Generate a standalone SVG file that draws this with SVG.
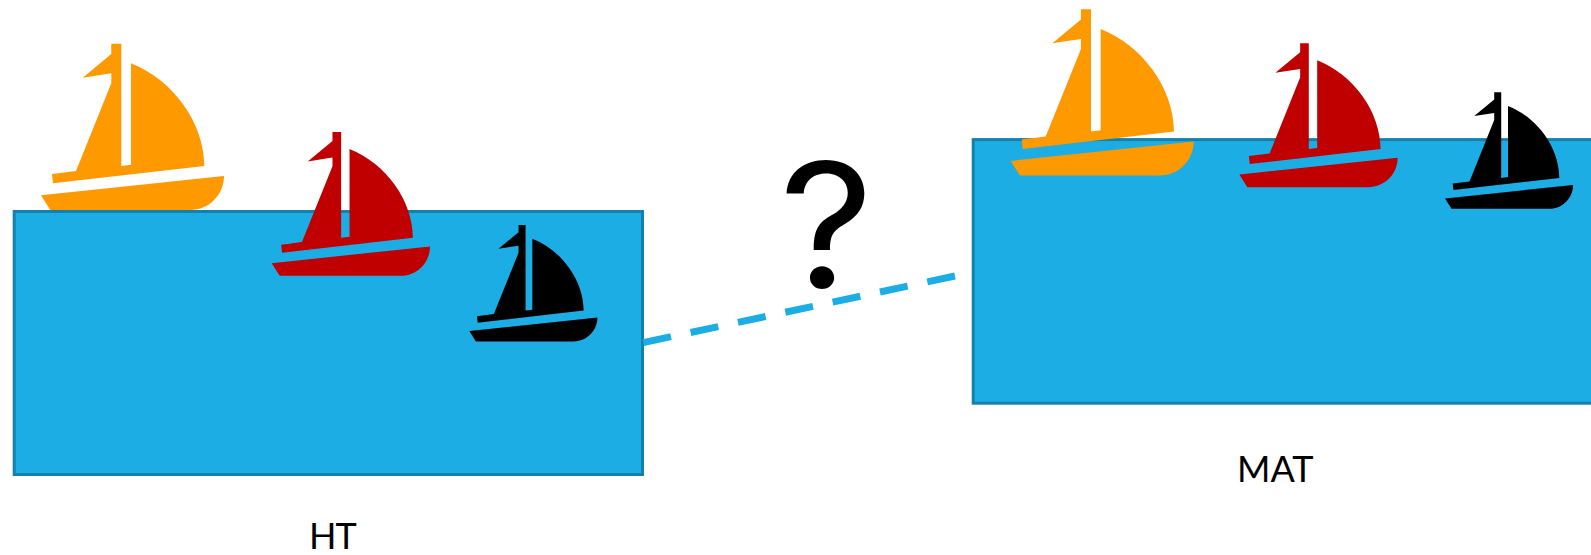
<svg xmlns="http://www.w3.org/2000/svg" width="1591" height="555" viewBox="0 0 1591 555">
<style>
.sea{fill:#1CADE4;stroke:#1481AB;stroke-width:3}
.lbl{font-family:"Lato","Liberation Sans",sans-serif;font-size:36px;fill:#000}
.q{font-family:"Inter","Liberation Sans",sans-serif;font-size:174px;fill:#000;text-anchor:middle}
.orange{fill:#FF9900}.red{fill:#C00000}.black{fill:#000}
</style>
<defs>
<path id="boat" d="M70.3,0H80.3V122.3L90,121V19.6C132.3,36.3 163.3,79.6 163.3,122.3L12,139.6L11,130.3L35,127.3L70.3,39.6V29.6L41.7,34L70.3,10.3ZM0,151.6L183,132.3C183,151 168,166.3 149.3,166.3H9.3Z"/>
</defs>
<rect width="1591" height="555" fill="#fff"/>
<g id="sea-ht"><rect class="sea" x="14.2" y="211.5" width="628.3" height="263"/></g>
<g id="sea-mat"><rect class="sea" x="973.2" y="139.6" width="640" height="263.6"/></g>
<g id="connectors"><line x1="643.3" y1="342.6" x2="955" y2="276" stroke="#1CADE4" stroke-width="7" stroke-dasharray="28.3 20.1"/></g>
<g id="boat-ht-orange" class="orange"><use href="#boat" transform="translate(41,43.7)"/></g>
<g id="boat-ht-red" class="red"><use href="#boat" transform="translate(271.67,132) scale(.865)"/></g>
<g id="boat-ht-black" class="black"><use href="#boat" transform="translate(469.33,225) scale(.7)"/></g>
<g id="boat-mat-orange" class="orange"><use href="#boat" transform="translate(1010.67,9.3)"/></g>
<g id="boat-mat-red" class="red"><use href="#boat" transform="translate(1239.33,43.3) scale(.865)"/></g>
<g id="boat-mat-black" class="black"><use href="#boat" transform="translate(1445,92.3) scale(.7)"/></g>
<g id="question"><text class="q" transform="translate(826.5,287.5) scale(1.06,1)" x="0" y="0">?</text></g>
<g id="label-ht"><text class="lbl" x="309" y="549" letter-spacing="-1">HT</text></g>
<g id="label-mat"><text class="lbl" x="1237" y="481.7">MAT</text></g>
</svg>
